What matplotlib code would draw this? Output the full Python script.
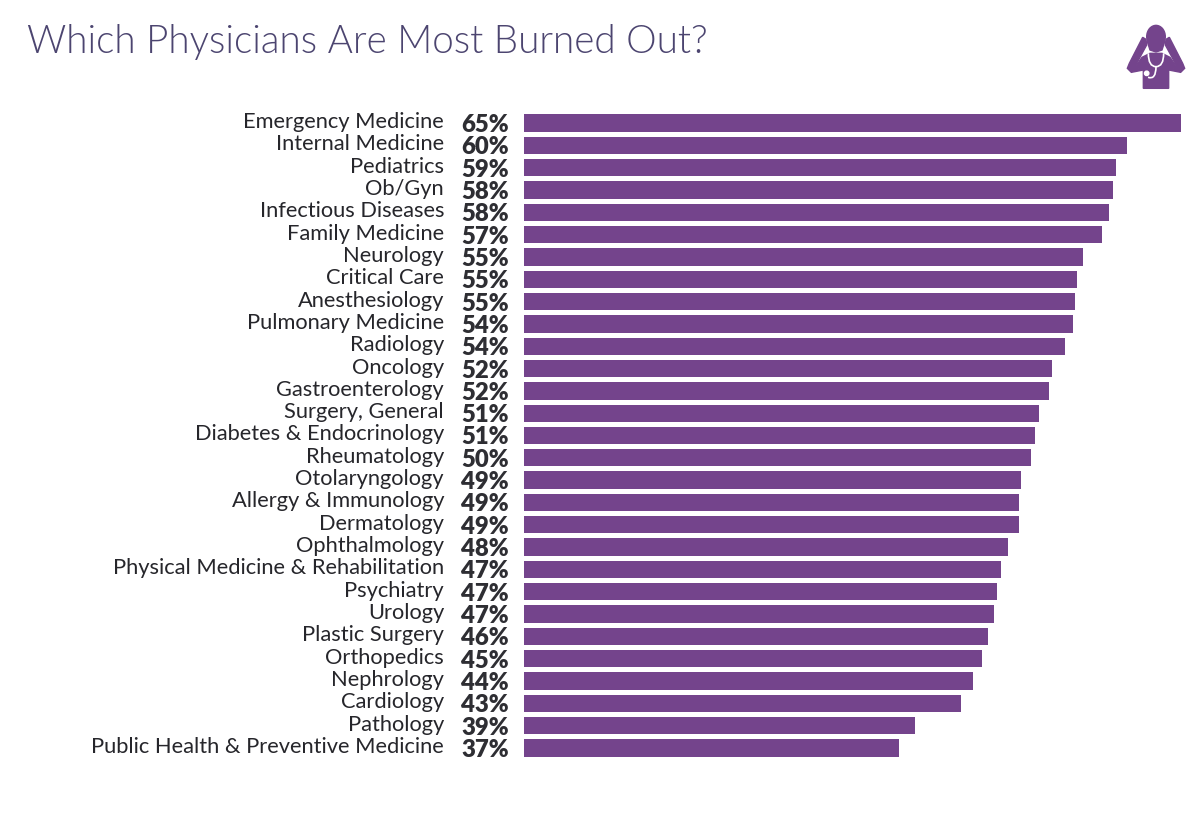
import matplotlib
matplotlib.use("Agg")
import matplotlib.pyplot as plt
from matplotlib.patches import Circle, Ellipse, Polygon, PathPatch
from matplotlib.path import Path

plt.rcParams['font.family'] = ['Lato', 'DejaVu Sans']

specialties = ["Emergency Medicine", "Internal Medicine", "Pediatrics", "Ob/Gyn", "Infectious Diseases",
               "Family Medicine", "Neurology", "Critical Care", "Anesthesiology", "Pulmonary Medicine",
               "Radiology", "Oncology", "Gastroenterology", "Surgery, General", "Diabetes & Endocrinology",
               "Rheumatology", "Otolaryngology", "Allergy & Immunology", "Dermatology", "Ophthalmology",
               "Physical Medicine & Rehabilitation", "Psychiatry", "Urology", "Plastic Surgery", "Orthopedics",
               "Nephrology", "Cardiology", "Pathology", "Public Health & Preventive Medicine"]
labels = [65, 60, 59, 58, 58, 57, 55, 55, 55, 54, 54, 52, 52, 51, 51, 50, 49, 49, 49, 48, 47, 47, 47, 46, 45, 44, 43, 39, 37]
bar_values = [65, 59.66, 58.6, 58.3, 57.9, 57.2, 55.3, 54.7, 54.5, 54.3, 53.5, 52.2, 51.9, 50.95, 50.55, 50.15,
              49.2, 49.0, 49.0, 47.85, 47.2, 46.8, 46.5, 45.9, 45.3, 44.4, 43.25, 38.7, 37.1]

W, H = 1200, 817
PURPLE = "#74448C"
TITLE = "#4C4570"
TEXT = "#26262B"

fig = plt.figure(figsize=(W / 100, H / 100), dpi=100, facecolor="white")

row = (748 - 123) / 28
top = 123 - row / 2
bottom = 748 + row / 2
ax = fig.add_axes([524 / W, 1 - bottom / H, (1181 - 524) / W, (bottom - top) / H])
ax.barh(range(len(bar_values)), bar_values, height=0.775, color=PURPLE)
ax.set_xlim(0, 65)
ax.set_ylim(len(bar_values) - 0.5, -0.5)
ax.axis("off")

to_px = ax.get_yaxis_transform()
for i, (name, lab) in enumerate(zip(specialties, labels)):
    ax.annotate(name, xy=(0, i), xycoords=to_px, xytext=(-80, 1.0), textcoords="offset pixels",
                ha="right", va="center", fontsize=15.75, color=TEXT, annotation_clip=False)
    ax.annotate(f"{lab}%", xy=(0, i), xycoords=to_px, xytext=(-15, -2), textcoords="offset pixels",
                ha="right", va="center", fontsize=17.2, fontweight="heavy", color="#2E2E33", annotation_clip=False)

fig.text(27 / W, 1 - 42 / H, "Which Physicians Are Most Burned Out?", fontsize=27.8, fontweight=300,
         color=TITLE, ha="left", va="center")

# Icon in pixel coordinates of the figure
icon = fig.add_axes([0, 0, 1, 1], facecolor="none")
icon.set_xlim(0, W)
icon.set_ylim(H, 0)
icon.axis("off")


def px(points):
    return [(1120 + x / 3, 20 + y / 3) for x, y in points]


# arms, then shoulders and torso, with a white gap between them
icon.add_patch(Polygon(px([(68, 52), (78, 58), (80, 75), (62, 108), (45, 140), (70, 150), (34, 157), (22, 145), (28, 130)]),
                       color=PURPLE))
icon.add_patch(Polygon(px([(148, 52), (138, 58), (136, 75), (154, 108), (171, 140), (146, 150), (182, 157), (194, 145), (188, 130)]),
                       color=PURPLE))
icon.add_patch(Polygon(px([(70, 205), (146, 205), (146, 148), (170, 140), (150, 112), (126, 100), (90, 100), (66, 112), (46, 140), (70, 148)]),
                       color=PURPLE))
icon.add_patch(Ellipse(px([(108, 50)])[0], 60 / 3, 72 / 3, fc=PURPLE, ec="none"))
icon.add_patch(Polygon(px([(82, 65), (134, 65), (126, 90), (108, 96), (90, 90)]), color=PURPLE))
U = Path(px([(85, 100), (85, 140), (108, 140), (131, 140), (131, 100)]),
         [Path.MOVETO, Path.CURVE3, Path.CURVE3, Path.CURVE3, Path.CURVE3])
icon.add_patch(PathPatch(U, fc="none", ec="white", lw=1.2))
tube = Path(px([(108, 140), (108, 180), (84, 172)]), [Path.MOVETO, Path.CURVE3, Path.CURVE3])
icon.add_patch(PathPatch(tube, fc="none", ec="white", lw=1.2))
icon.add_patch(Circle(px([(80, 160)])[0], 2.2, fc="white", ec="white"))

fig.savefig("out.png", dpi=100, facecolor="white")
